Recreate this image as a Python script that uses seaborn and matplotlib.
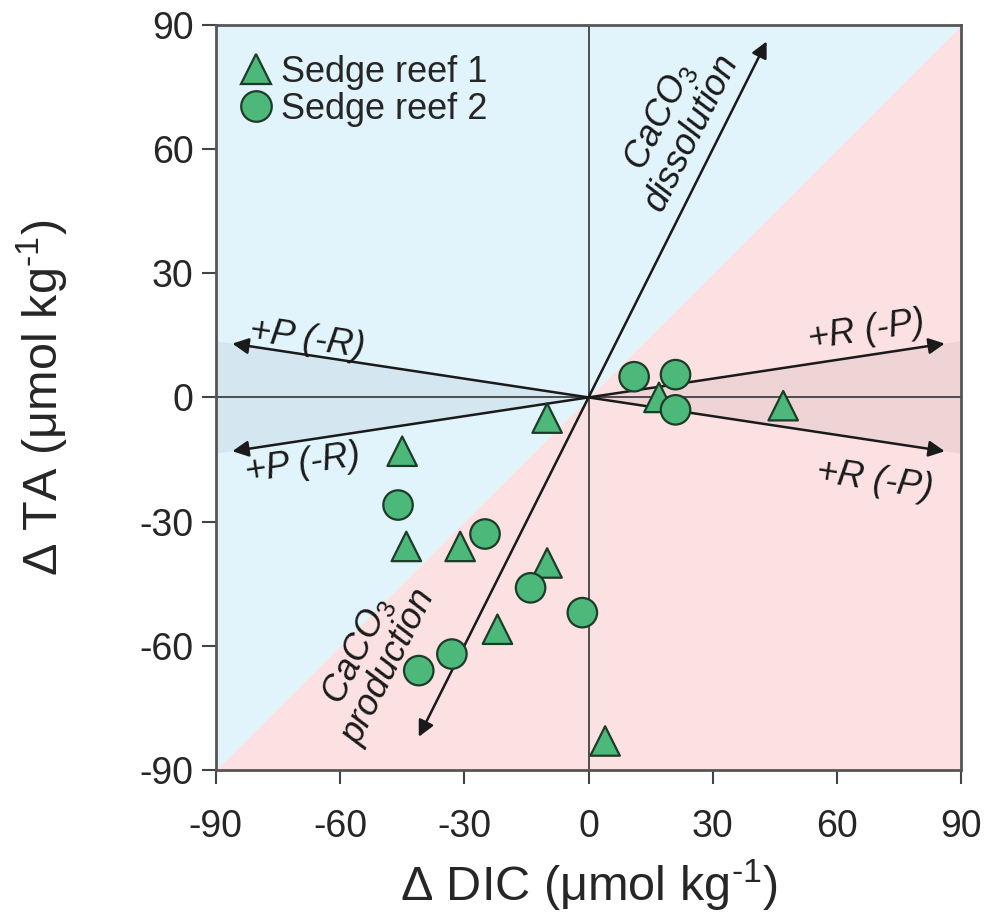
import numpy as np
import pandas as pd
import matplotlib
matplotlib.use('Agg')
import matplotlib.pyplot as plt
import seaborn as sns

# --- data ---
reef1_dic = [-10, -45, -44, -31, -10, -22, 4, 17, 47]
reef1_ta = [-5, -13, -36, -36, -40, -56, -83, 0, -2]
reef2_dic = [11, 21, 21, -46, -25, -14, -1.5, -33, -41]
reef2_ta = [5, 5.5, -3, -26, -33, -46, -52, -62, -66]
series_names = ['Sedge reef 1', 'Sedge reef 2']

# process vectors (end points, all starting at origin)
vec_dissolution = (43, 86)
vec_production = (-41, -82)
vec_p_up = (-86, 13)
vec_p_down = (-86, -13)
vec_r_up = (86, 13)
vec_r_down = (86, -13)

LIM = 90
TICKS = [-90, -60, -30, 0, 30, 60, 90]
WEDGE_SLOPE = 13 / 86

df = pd.DataFrame({
    'DIC': reef1_dic + reef2_dic,
    'TA': reef1_ta + reef2_ta,
    'Site': [series_names[0]] * len(reef1_dic) + [series_names[1]] * len(reef2_dic),
})

sns.set_style('ticks')
plt.rcParams['font.family'] = ['Liberation Sans', 'DejaVu Sans']
plt.rcParams['mathtext.fontset'] = 'custom'
plt.rcParams['mathtext.rm'] = 'Liberation Sans'
plt.rcParams['mathtext.it'] = 'Liberation Sans:italic'
plt.rcParams['axes.unicode_minus'] = False

fig = plt.figure(figsize=(9.9, 9.21), dpi=100)
ax = fig.add_axes([0.218, 0.164, 0.753, 0.809])

# background regions
ax.fill_between([-LIM, LIM], [-LIM, LIM], [LIM, LIM], color='#e1f3fb', lw=0, zorder=0)
ax.fill_between([-LIM, LIM], [-LIM, -LIM], [-LIM, LIM], color='#fbe1e1', lw=0, zorder=0)
# shaded wedges between the P and R arrows (run to the frame)
w = LIM * WEDGE_SLOPE
ax.fill([0, -LIM, -LIM], [0, w, -w], color='#5a6b78', alpha=0.09, lw=0, zorder=0.5)
ax.fill([0, LIM, LIM], [0, w, -w], color='#6b5a5e', alpha=0.09, lw=0, zorder=0.5)

ax.axhline(0, color='#333333', lw=1.2, zorder=1)
ax.axvline(0, color='#333333', lw=1.2, zorder=1)

for v in [vec_dissolution, vec_production, vec_p_up, vec_p_down, vec_r_up, vec_r_down]:
    ax.annotate('', xy=v, xytext=(0, 0),
                arrowprops=dict(arrowstyle='-|>', color='#1a1a1a', lw=1.8,
                                mutation_scale=24, shrinkA=0, shrinkB=0),
                zorder=2)

sns.scatterplot(data=df, x='DIC', y='TA', style='Site',
                markers={series_names[0]: '^', series_names[1]: 'o'},
                color='#4cb97a', edgecolor='#1d3b28', linewidth=1.6,
                s=450, ax=ax, zorder=3)

txt = dict(fontsize=26, style='italic', color='#1a1a1a', ha='center', va='center')
ax.text(21, 66, 'CaCO$_3$\ndissolution', rotation=63.4, linespacing=1.0, **txt)
ax.text(-52, -63, 'CaCO$_3$\nproduction', rotation=63.4, linespacing=1.0, **txt)
ax.text(-68, 14, '+P (-R)', rotation=-8.6, **txt)
ax.text(-69, -16, '+P (-R)', rotation=8.6, **txt)
ax.text(67, 16, '+R (-P)', rotation=8.6, **txt)
ax.text(69, -20, '+R (-P)', rotation=-8.6, **txt)

ax.set_xlim(-LIM, LIM)
ax.set_ylim(-LIM, LIM)
ax.set_xticks(TICKS)
ax.set_yticks(TICKS)
ax.tick_params(labelsize=27, length=10, width=1.5, color='#444444')
ax.tick_params(axis='x', pad=18)
ax.tick_params(axis='y', pad=6)
for sp in ax.spines.values():
    sp.set_color('#555555')
    sp.set_linewidth(2)
    sp.set_zorder(4)

ax.set_xlabel('Δ DIC (μmol kg$^{‐1}$)', fontsize=35, labelpad=9)
ax.set_ylabel('Δ TA (μmol kg$^{‐1}$)', fontsize=35, labelpad=50)

leg = ax.legend(loc='upper left', bbox_to_anchor=(0.0, 0.984), frameon=False,
                fontsize=26, handletextpad=0.1, borderaxespad=0.2,
                labelspacing=0.05, title=None, borderpad=0.3, handlelength=1.2)
for h in leg.legend_handles:
    h.set_markersize(22)
    h.set_markerfacecolor('#4cb97a')
    h.set_markeredgecolor('#1d3b28')
    h.set_markeredgewidth(1.6)

fig.savefig('out.png', dpi=100)
